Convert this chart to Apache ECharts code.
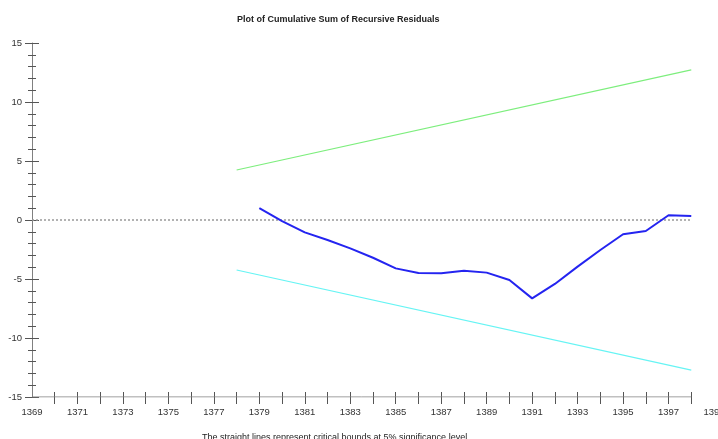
<!DOCTYPE html>
<html>
<head>
<meta charset="utf-8">
<script src="https://cdn.jsdelivr.net/npm/echarts@6/dist/echarts.min.js"></script>
<style>html,body{margin:0;padding:0;background:#fff;}#c{width:718px;height:439px;}</style>
</head>
<body>
<div id="c"></div>
<script>
const years = [1379,1380,1381,1382,1383,1384,1385,1386,1387,1388,1389,1390,1391,1392,1393,1394,1395,1396,1397,1398];
const cusum = [1.0,-0.1,-1.05,-1.7,-2.4,-3.2,-4.1,-4.5,-4.52,-4.3,-4.46,-5.08,-6.64,-5.42,-3.95,-2.54,-1.21,-0.93,0.4,0.33];
const boundYears = [1378, 1398];
const upperBound = [4.24, 12.72];
const lowerBound = [-4.24, -12.72];
const refYears = [1369, 1398];
const zeroLine = [0, 0];
const axisBase = [-15, -15];
const xTickValues = [1370,1371,1372,1373,1374,1375,1376,1377,1378,1379,1380,1381,1382,1383,1384,1385,1386,1387,1388,1389,1390,1391,1392,1393,1394,1395,1396,1397,1398];
const xLabelValues = [1369,1371,1373,1375,1377,1379,1381,1383,1385,1387,1389,1391,1393,1395,1397,1399];
const titleText = 'Plot of Cumulative Sum of Recursive Residuals';
const noteText = 'The straight lines represent critical bounds at 5% significance level';

const pairs = (xs, ys) => xs.map((x, i) => [x, ys[i]]);
const FONT = 'Liberation Sans';
const axisGray = '#808080';

const xCommon = {
  type: 'value', min: 1369, max: 1399, position: 'bottom',
  axisLine: { show: false, onZero: false }, splitLine: { show: false }
};
const yCommon = {
  type: 'value', min: -15, max: 15, interval: 5, position: 'left',
  splitLine: { show: false }, minorSplitLine: { show: false }
};

const chart = echarts.init(document.getElementById('c'));
chart.setOption({
  animation: false,
  backgroundColor: '#fff',
  title: [
    { text: titleText, left: 232, top: 10,
      textStyle: { fontFamily: FONT, fontSize: 9, fontWeight: 'bold', color: '#222' } },
    { text: noteText, left: 197, top: 428,
      textStyle: { fontFamily: FONT, fontSize: 9, fontWeight: 'normal', color: '#222' } }
  ],
  grid: { left: 32, right: 4, top: 43, bottom: 42, containLabel: false, outerBoundsMode: 'none' },
  xAxis: [
    Object.assign({}, xCommon, {
      axisTick: { show: true, inside: false, length: 7, customValues: xTickValues,
        lineStyle: { color: '#555', width: 1 } },
      axisLabel: { show: true, customValues: xLabelValues, margin: 10, hideOverlap: false,
        formatter: v => String(v), fontFamily: FONT, fontSize: 9.5, color: '#333' }
    }),
    Object.assign({}, xCommon, {
      axisTick: { show: true, inside: true, length: 5, customValues: xTickValues,
        lineStyle: { color: '#555', width: 1 } },
      axisLabel: { show: false }
    })
  ],
  yAxis: [
    Object.assign({}, yCommon, {
      axisLine: { show: true, onZero: false, lineStyle: { color: axisGray, width: 1 } },
      axisTick: { show: true, inside: false, length: 7, lineStyle: { color: '#555' } },
      minorTick: { show: true, splitNumber: 5, length: 4, lineStyle: { color: '#555' } },
      axisLabel: { show: true, margin: 10, formatter: v => String(v), fontFamily: FONT, fontSize: 9.5, color: '#333' }
    }),
    Object.assign({}, yCommon, {
      axisLine: { show: false, onZero: false },
      axisTick: { show: true, inside: true, length: 7, lineStyle: { color: '#555' } },
      minorTick: { show: true, splitNumber: 5, length: 4, lineStyle: { color: '#555' } },
      axisLabel: { show: false }
    })
  ],
  series: [
    { type: 'line', name: 'xaxis', data: pairs(refYears, axisBase), symbol: 'none', silent: true,
      lineStyle: { color: axisGray, width: 1 }, z: 1 },
    { type: 'line', name: 'zero', data: pairs(refYears, zeroLine), symbol: 'none', silent: true,
      lineStyle: { color: '#999', width: 1.5, type: [2, 2] }, z: 1 },
    { type: 'line', name: 'upper', data: pairs(boundYears, upperBound), symbol: 'none',
      lineStyle: { color: '#7dee7d', width: 1.2 } },
    { type: 'line', name: 'lower', data: pairs(boundYears, lowerBound), symbol: 'none',
      lineStyle: { color: '#66f4f4', width: 1.2 } },
    { type: 'line', name: 'CUSUM', data: pairs(years, cusum), symbol: 'none',
      lineStyle: { color: '#2424f0', width: 2 }, z: 3 }
  ]
});
</script>
</body>
</html>
